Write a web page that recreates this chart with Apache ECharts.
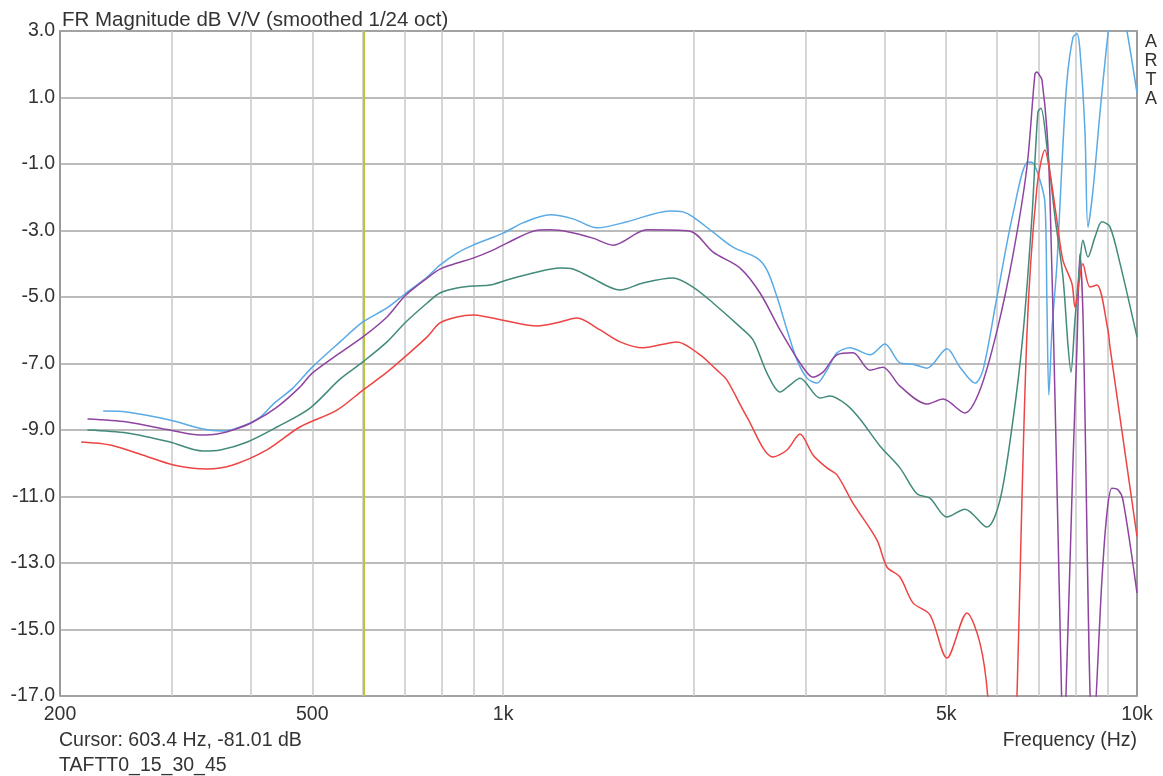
<!DOCTYPE html>
<html>
<head>
<meta charset="utf-8">
<script src="https://cdn.jsdelivr.net/npm/echarts@6/dist/echarts.min.js"></script>
<style>
html,body{margin:0;padding:0;background:#fff;}
#c{width:1163px;height:776px;}
</style>
</head>
<body>
<div id="c"></div>
<script>
// ---- data: [frequency Hz, dB] ----
const blue = [[234,-8.43],[255,-8.46],[298,-8.70],[336,-8.97],[362,-9.03],[385,-8.91],[414,-8.61],[434,-8.22],[466,-7.74],[500,-7.11],[553,-6.35],[601,-5.75],[656,-5.33],[700,-4.91],[759,-4.40],[795,-4.04],[846,-3.68],[897,-3.44],[1000,-3.08],[1075,-2.77],[1186,-2.53],[1289,-2.65],[1407,-2.92],[1568,-2.74],[1833,-2.41],[1922,-2.44],[1993,-2.59],[2144,-3.05],[2305,-3.50],[2515,-3.83],[2608,-4.19],[2705,-5.00],[2805,-5.99],[2908,-6.89],[3016,-7.44],[3127,-7.59],[3243,-7.20],[3363,-6.68],[3526,-6.53],[3791,-6.74],[4003,-6.41],[4227,-6.98],[4432,-7.02],[4663,-7.14],[5014,-6.56],[5257,-7.11],[5551,-7.59],[5715,-7.20],[6013,-5.00],[6373,-2.50],[6730,-0.94],[6853,-0.97],[7029,-1.48],[7158,-2.17],[7210,-5.2],[7260,-7.95],[7343,-6.0],[7477,-4.0],[7614,-1.0],[7753,1.5],[7924,2.8],[8040,2.92],[8128,2.43],[8277,0.0],[8368,-2.9],[8521,-1.8],[8741,0.53],[8999,2.9],[9130,3.6],[9331,4.2],[9502,3.5],[9641,3.0],[10000,1.14]];
const purple = [[221,-8.67],[255,-8.76],[298,-9.00],[333,-9.15],[354,-9.12],[375,-9.00],[403,-8.76],[440,-8.31],[478,-7.71],[500,-7.29],[553,-6.68],[601,-6.20],[656,-5.60],[700,-4.97],[759,-4.43],[795,-4.16],[846,-3.98],[897,-3.83],[964,-3.59],[1014,-3.38],[1115,-3.02],[1186,-2.98],[1275,-3.05],[1386,-3.23],[1491,-3.44],[1686,-2.98],[1972,-3.02],[2144,-3.65],[2365,-4.13],[2543,-4.88],[2734,-5.99],[2940,-6.98],[3082,-7.41],[3196,-7.26],[3363,-6.74],[3564,-6.68],[3791,-7.20],[3974,-7.11],[4227,-7.68],[4663,-8.22],[4942,-8.07],[5353,-8.49],[5653,-7.80],[6013,-6.02],[6373,-3.74],[6705,-1.09],[6903,1.71],[6953,1.77],[7029,1.65],[7081,1.53],[7210,0.02],[7289,-1.99],[7423,-8.0],[7614,-17.5],[7642,-19.0],[7782,-15.0],[7924,-10.0],[8040,-6.5],[8128,-3.7],[8217,-5.5],[8521,-18.5],[8804,-13.5],[8966,-11.5],[9130,-10.75],[9331,-10.8],[9502,-11.1],[10000,-13.9]];
const teal = [[221,-9.00],[255,-9.09],[298,-9.36],[336,-9.63],[358,-9.60],[395,-9.36],[440,-8.91],[496,-8.34],[553,-7.47],[601,-6.95],[656,-6.35],[700,-5.78],[759,-5.18],[795,-4.88],[846,-4.73],[897,-4.67],[954,-4.64],[1014,-4.49],[1115,-4.28],[1230,-4.13],[1289,-4.16],[1371,-4.40],[1529,-4.79],[1662,-4.58],[1853,-4.43],[1993,-4.70],[2144,-5.18],[2365,-5.90],[2479,-6.29],[2608,-7.29],[2734,-7.86],[2835,-7.65],[2940,-7.44],[3162,-8.04],[3279,-7.98],[3487,-8.25],[3656,-8.67],[3931,-9.48],[4227,-10.14],[4496,-10.92],[4714,-11.05],[5014,-11.62],[5353,-11.38],[5799,-11.92],[6079,-11.11],[6373,-8.70],[6608,-6.14],[6828,-2.59],[6978,0.56],[7055,0.68],[7210,-0.49],[7423,-2.59],[7642,-4.40],[7782,-6.44],[7867,-7.26],[7982,-5.69],[8128,-3.98],[8217,-3.29],[8368,-3.80],[8584,-3.2],[8804,-2.74],[9064,-2.89],[9399,-3.98],[10000,-6.20]];
const red = [[216,-9.36],[240,-9.45],[270,-9.75],[302,-10.05],[341,-10.17],[375,-10.05],[424,-9.60],[478,-8.91],[547,-8.40],[601,-7.80],[656,-7.26],[700,-6.80],[759,-6.20],[795,-5.78],[846,-5.60],[897,-5.54],[943,-5.60],[1014,-5.72],[1131,-5.87],[1230,-5.75],[1308,-5.63],[1422,-5.99],[1529,-6.35],[1662,-6.53],[1881,-6.35],[2045,-6.74],[2175,-7.20],[2255,-7.50],[2425,-8.61],[2666,-9.81],[2805,-9.6],[2940,-9.12],[3082,-9.75],[3243,-10.14],[3363,-10.35],[3564,-11.20],[3889,-12.31],[4032,-13.12],[4227,-13.42],[4432,-14.20],[4714,-14.56],[5014,-15.86],[5392,-14.50],[5653,-15.41],[5820,-17.1],[5950,-21],[6380,-20],[6466,-17.0],[6705,-6.1],[6953,-1.7],[7158,-0.58],[7289,-1.27],[7477,-2.7],[7642,-3.9],[7896,-4.6],[7982,-5.3],[8217,-4.0],[8429,-4.7],[8646,-4.64],[8999,-6.0],[9064,-6.5],[10000,-12.2]];
const xLabelValues = [200, 500, 1000, 5000, 10000];
const xGridValues = [300,400,500,600,700,800,900,1000,2000,3000,4000,5000,6000,7000,8000,9000];
const cursorFreq = 603.4;

const FONT = '"Liberation Sans", Arial, sans-serif';
const TXT = '#333333';

const chart = echarts.init(document.getElementById('c'), null, {renderer:'canvas'});
function lineSeries(name, data, color){
  return {name, type:'line', data, showSymbol:false, smooth:0.3, clip:true, z:5,
    lineStyle:{color, width:1.5}, itemStyle:{color}, animation:false};
}
chart.setOption({
  animation:false,
  backgroundColor:'#fff',
  grid:{left:60, top:31, width:1077, height:665, show:true, borderColor:'#7a7a7a', borderWidth:1.5, backgroundColor:'transparent'},
  xAxis:{type:'log', logBase:10, min:200, max:10000,
    axisLine:{show:false}, axisTick:{show:false}, splitLine:{show:false},
    axisLabel:{customValues:xLabelValues, margin:9, fontSize:19.5, fontFamily:FONT, color:TXT,
      formatter:v=> v>=1000 ? (v/1000)+'k' : String(v)}},
  yAxis:{type:'value', min:-17, max:3, interval:2,
    axisLine:{show:false}, axisTick:{show:false},
    splitLine:{show:true, lineStyle:{color:'#a4a4a4', width:1.5}},
    axisLabel:{margin:5, fontSize:19.5, fontFamily:FONT, color:TXT, formatter:v=>v.toFixed(1)}},
  series:[
    {type:'line', data:[], z:1, silent:true,
      markLine:{silent:true, symbol:'none', label:{show:false}, animation:false,
        lineStyle:{color:'#c8c8c8', width:1.5, type:'solid'},
        data: xGridValues.map(v=>({xAxis:v}))}},
    {type:'line', data:[], z:2, silent:true,
      markLine:{silent:true, symbol:'none', label:{show:false}, animation:false,
        lineStyle:{color:'#bcc43a', width:2, type:'solid'},
        data:[{xAxis:cursorFreq}]}},
    lineSeries('blue', blue, '#5aaae6'),
    lineSeries('purple', purple, '#8e44a0'),
    lineSeries('teal', teal, '#428a7c'),
    lineSeries('red', red, '#ee4444')
  ],
  graphic:[
    {type:'text', x:62, y:20, style:{text:'FR Magnitude dB V/V (smoothed 1/24 oct)', font:'20.5px '+FONT, fill:TXT, verticalAlign:'middle', textVerticalAlign:'middle'}},
    {type:'text', x:59, y:741, style:{text:'Cursor: 603.4 Hz, -81.01 dB', font:'19.5px '+FONT, fill:TXT, verticalAlign:'middle', textVerticalAlign:'middle'}},
    {type:'text', x:59, y:766, style:{text:'TAFTT0_15_30_45', font:'19.5px '+FONT, fill:TXT, verticalAlign:'middle', textVerticalAlign:'middle'}},
    {type:'text', x:1137, y:741, style:{text:'Frequency (Hz)', font:'19.5px '+FONT, fill:TXT, align:'right', textAlign:'right', verticalAlign:'middle', textVerticalAlign:'middle'}},
    {type:'text', x:1151, y:33, style:{text:'A\nR\nT\nA', font:'18px '+FONT, lineHeight:19, fill:TXT, align:'center', textAlign:'center', verticalAlign:'top', textVerticalAlign:'top'}}
  ]
});
</script>
</body>
</html>
